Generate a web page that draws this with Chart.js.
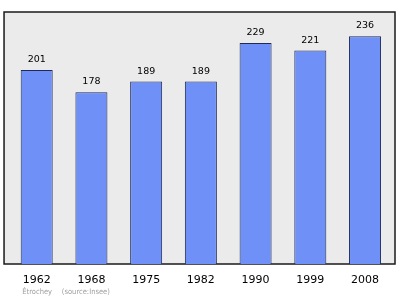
<!DOCTYPE html>
<html>
<head>
<meta charset="utf-8">
<script src="https://cdn.jsdelivr.net/npm/chart.js@4"></script>
<style>
  html, body { margin: 0; padding: 0; background: #ffffff; }
  #wrap { width: 400px; height: 299px; }
</style>
</head>
<body>
<div id="wrap"><canvas id="c" width="400" height="299"></canvas></div>
<script>
const years = ["1962", "1968", "1975", "1982", "1990", "1999", "2008"];
const population = [201, 178, 189, 189, 229, 221, 236];
const footerPlace = "Étrochey";
const footerSource = "(source:Insee)";

const boxPlugin = {
  id: 'box',
  beforeDraw(chart) {
    const { ctx, chartArea: a } = chart;
    ctx.save();
    const x0 = a.left - 5.3, x1 = a.right + 2.6, y0 = a.top, y1 = a.bottom;
    ctx.fillStyle = '#ebebeb';
    ctx.fillRect(x0, y0, x1 - x0, y1 - y0);
    ctx.strokeStyle = '#1a1a1a';
    ctx.lineWidth = 1.5;
    ctx.strokeRect(x0, y0, x1 - x0, y1 - y0);
    ctx.restore();
  },
  afterDatasetsDraw(chart) {
    const { ctx } = chart;
    const meta = chart.getDatasetMeta(0);
    ctx.save();
    ctx.fillStyle = '#000';
    ctx.font = "9.5px 'DejaVu Sans'";
    ctx.textAlign = 'center';
    ctx.textBaseline = 'alphabetic';
    meta.data.forEach((bar, i) => {
      ctx.fillText(String(population[i]), bar.x, bar.y - 8);
    });
    ctx.fillStyle = '#a0a0a0';
    ctx.textAlign = 'left';
    ctx.font = "7.5px 'DejaVu Sans Condensed', 'DejaVu Sans', sans-serif";
    const a = chart.chartArea;
    ctx.fillText(footerPlace, a.left + 13, 294);
    ctx.fillText(footerSource, a.left + 52.5, 294);
    ctx.restore();
  }
};

new Chart(document.getElementById('c'), {
  type: 'bar',
  data: {
    labels: years,
    datasets: [{
      data: population,
      backgroundColor: '#6f90f6',
      borderColor: '#1f2a55',
      borderWidth: 1,
      borderSkipped: 'bottom',
      barPercentage: 0.585,
      categoryPercentage: 1.0
    }]
  },
  options: {
    responsive: false,
    animation: false,
    devicePixelRatio: 1,
    layout: { padding: { left: 9.34, right: 7.6, top: 12, bottom: 0 } },
    plugins: { legend: { display: false }, tooltip: { enabled: false }, title: { display: false } },
    scales: {
      x: {
        grid: { display: false, drawTicks: false },
        border: { display: false },
        ticks: { color: '#000', font: { family: 'DejaVu Sans', size: 11 }, padding: 10 },
        afterFit(scale) { scale.height = 35; }
      },
      y: { display: false, min: 0, max: 261 }
    }
  },
  plugins: [boxPlugin]
});
</script>
</body>
</html>
